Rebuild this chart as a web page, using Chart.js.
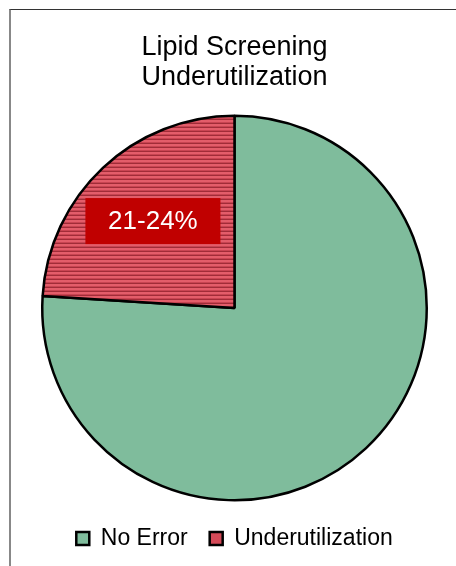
<!DOCTYPE html>
<html>
<head>
<meta charset="utf-8">
<script src="https://cdn.jsdelivr.net/npm/chart.js@4.4.1/dist/chart.umd.min.js"></script>
<style>
  html, body { margin: 0; padding: 0; background: #fff; }
  #wrap { position: relative; width: 456px; height: 566px; }
  #frame {
    position: absolute; left: 9px; top: 9px; right: 0; bottom: 0;
    border-top: 1px solid #333; border-left: 2px solid #888;
    pointer-events: none;
  }
</style>
</head>
<body>
<div id="wrap">
  <canvas id="pie" width="456" height="566"></canvas>
  <div id="frame"></div>
</div>
<script>
const titleLines = ['Lipid Screening', 'Underutilization'];
const categories = ['No Error', 'Underutilization'];
const shares = [76, 24];
const sliceLabel = ['', '21-24%'];

// horizontal stripes for the red slice
function stripes() {
    const c = document.createElement('canvas');
    c.width = 4; c.height = 4;
    const g = c.getContext('2d');
    g.fillStyle = '#e35d6a'; g.fillRect(0, 0, 4, 2);
    g.fillStyle = '#c84452'; g.fillRect(0, 2, 4, 1);
    g.fillStyle = '#a02c38'; g.fillRect(0, 3, 4, 1);
    return g.createPattern(c, 'repeat');
}

const boxLabel = {
    id: 'boxLabel',
    afterDatasetsDraw(chart) {
        const ctx = chart.ctx;
        const arcs = chart.getDatasetMeta(0).data;
        arcs.forEach((arc, i) => {
            if (!sliceLabel[i]) return;
            const p = arc.getProps(['x', 'y', 'startAngle', 'endAngle', 'outerRadius'], true);
            const mid = (p.startAngle + p.endAngle) / 2;
            const r = p.outerRadius * 0.62;
            const cx = p.x + Math.cos(mid) * r;
            const cy = p.y + Math.sin(mid) * r;
            ctx.save();
            ctx.font = '26px "Liberation Sans", Arial, sans-serif';
            const w = 135, h = 46;
            ctx.fillStyle = '#c00000';
            ctx.fillRect(cx - w / 2, cy - h / 2, w, h);
            ctx.fillStyle = '#fff';
            ctx.textAlign = 'center';
            ctx.textBaseline = 'middle';
            ctx.fillText(sliceLabel[i], cx, cy + 1);
            ctx.restore();
        });
    }
};

new Chart(document.getElementById('pie'), {
    type: 'pie',
    data: {
        labels: categories,
        datasets: [{
            data: shares,
            backgroundColor: ['#7fbc9c', stripes()],
            borderColor: '#000',
            borderWidth: 2.5,
        }],
    },
    options: {
        responsive: false,
        animation: false,
        layout: { padding: { left: 41, right: 28, top: 0, bottom: 6 } },
        plugins: {
            title: {
                display: true,
                text: titleLines,
                color: '#000',
                font: { family: '"Liberation Sans", Arial, sans-serif', size: 27, weight: 'normal', lineHeight: 1.11 },
                padding: { top: 33, bottom: 18 },
            },
            legend: {
                position: 'bottom',
                labels: {
                    color: '#000',
                    boxWidth: 13,
                    boxHeight: 13,
                    padding: 22,
                    font: { family: '"Liberation Sans", Arial, sans-serif', size: 23 },
                    generateLabels(chart) {
                        return categories.map((c, i) => ({
                            text: c,
                            fillStyle: i === 0 ? '#7fbc9c' : '#d44a58',
                            strokeStyle: '#000',
                            lineWidth: 2.5,
                            index: i,
                        }));
                    },
                },
            },
            tooltip: { enabled: false },
        },
    },
    plugins: [boxLabel],
});
</script>
</body>
</html>
